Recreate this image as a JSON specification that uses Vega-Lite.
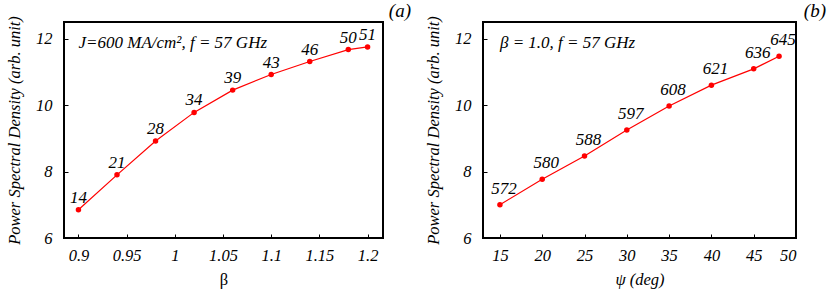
{
  "$schema": "https://vega.github.io/schema/vega-lite/v6.json",
  "padding": {"left": 5, "top": 0, "right": 0, "bottom": 0},
  "background": "white",
  "datasets": {
    "a": [
      {"beta": 0.90, "psd": 6.85, "lab": "14"},
      {"beta": 0.94, "psd": 7.90, "lab": "21"},
      {"beta": 0.98, "psd": 8.92, "lab": "28"},
      {"beta": 1.02, "psd": 9.78, "lab": "34"},
      {"beta": 1.06, "psd": 10.45, "lab": "39"},
      {"beta": 1.10, "psd": 10.92, "lab": "43"},
      {"beta": 1.14, "psd": 11.31, "lab": "46"},
      {"beta": 1.18, "psd": 11.67, "lab": "50"},
      {"beta": 1.20, "psd": 11.75, "lab": "51"}
    ],
    "b": [
      {"psi": 15, "psd": 7.00, "lab": "572"},
      {"psi": 20, "psd": 7.77, "lab": "580"},
      {"psi": 25, "psd": 8.47, "lab": "588"},
      {"psi": 30, "psd": 9.25, "lab": "597"},
      {"psi": 35, "psd": 9.97, "lab": "608"},
      {"psi": 40, "psd": 10.60, "lab": "621"},
      {"psi": 45, "psd": 11.09, "lab": "636"},
      {"psi": 48, "psd": 11.47, "lab": "645"}
    ],
    "noteA": [{"note": "J=600 MA/cm², f = 57 GHz"}],
    "noteB": [{"note": "β = 1.0, f = 57 GHz"}]
  },
  "config": {
    "view": {"stroke": "black", "strokeWidth": 2},
    "font": "Liberation Serif",
    "axis": {
      "domain": false,
      "grid": false,
      "tickSize": -4,
      "tickColor": "black",
      "tickWidth": 1,
      "labelFont": "Liberation Serif",
      "labelFontStyle": "italic",
      "labelFontSize": 16.5,
      "labelColor": "black",
      "titleFont": "Liberation Serif",
      "titleFontStyle": "italic",
      "titleFontWeight": "normal",
      "titleFontSize": 16.5,
      "titleColor": "black"
    },
    "title": {"font": "Liberation Serif", "fontSize": 19, "fontStyle": "italic", "fontWeight": "normal", "color": "black", "anchor": "end", "frame": "group", "offset": -5}
  },
  "spacing": 12,
  "hconcat": [
    {
      "width": 319,
      "height": 216,
      "title": {"text": "(a)", "dx": 28},
      "layer": [
        {
          "data": {"name": "a"},
          "mark": {"type": "line", "color": "#ff0000", "strokeWidth": 1.2},
          "encoding": {
            "x": {"field": "beta", "type": "quantitative",
              "scale": {"domain": [0.885, 1.216], "nice": false, "zero": false},
              "axis": {"title": "β", "titleFontStyle": "normal", "titlePadding": 8, "labelPadding": 13,
                "values": [0.9, 0.925, 0.95, 0.975, 1.0, 1.025, 1.05, 1.075, 1.1, 1.125, 1.15, 1.175, 1.2],
                "labelExpr": "round(datum.value*1000) % 50 == 0 ? format(datum.value, '~g') : ''"}},
            "y": {"field": "psd", "type": "quantitative",
              "scale": {"domain": [6, 12.5], "nice": false, "zero": false},
              "axis": {"title": "Power Spectral Density (arb. unit)", "titlePadding": 13, "labelPadding": 16,
                "values": [6, 7, 8, 9, 10, 11, 12],
                "labelExpr": "datum.value % 2 == 0 ? datum.label : ''"}}
          }
        },
        {
          "data": {"name": "a"},
          "mark": {"type": "point", "filled": true, "color": "#ff0000", "size": 30, "opacity": 1},
          "encoding": {
            "x": {"field": "beta", "type": "quantitative"},
            "y": {"field": "psd", "type": "quantitative"}
          }
        },
        {
          "data": {"name": "a"},
          "mark": {"type": "text", "font": "Liberation Serif", "fontStyle": "italic", "fontSize": 17, "dy": -7, "baseline": "alphabetic", "color": "black"},
          "encoding": {
            "x": {"field": "beta", "type": "quantitative"},
            "y": {"field": "psd", "type": "quantitative"},
            "text": {"field": "lab"}
          }
        },
        {
          "data": {"name": "noteA"},
          "mark": {"type": "text", "font": "Liberation Serif", "fontStyle": "italic", "fontSize": 17, "align": "left", "baseline": "alphabetic", "color": "black"},
          "encoding": {
            "x": {"datum": 0.9},
            "y": {"datum": 11.73},
            "text": {"field": "note"}
          }
        }
      ]
    },
    {
      "width": 313,
      "height": 216,
      "title": {"text": "(b)", "dx": 30},
      "layer": [
        {
          "data": {"name": "b"},
          "mark": {"type": "line", "color": "#ff0000", "strokeWidth": 1.2},
          "encoding": {
            "x": {"field": "psi", "type": "quantitative",
              "scale": {"domain": [13, 50], "nice": false, "zero": false},
              "axis": {"title": "ψ (deg)", "titlePadding": 8, "labelPadding": 13,
                "values": [15, 17.5, 20, 22.5, 25, 27.5, 30, 32.5, 35, 37.5, 40, 42.5, 45, 47.5, 50],
                "labelExpr": "datum.value % 5 == 0 ? datum.label : ''"}},
            "y": {"field": "psd", "type": "quantitative",
              "scale": {"domain": [6, 12.5], "nice": false, "zero": false},
              "axis": {"title": "Power Spectral Density (arb. unit)", "titlePadding": 13, "labelPadding": 16,
                "values": [6, 7, 8, 9, 10, 11, 12],
                "labelExpr": "datum.value % 2 == 0 ? datum.label : ''"}}
          }
        },
        {
          "data": {"name": "b"},
          "mark": {"type": "point", "filled": true, "color": "#ff0000", "size": 30, "opacity": 1},
          "encoding": {
            "x": {"field": "psi", "type": "quantitative"},
            "y": {"field": "psd", "type": "quantitative"}
          }
        },
        {
          "data": {"name": "b"},
          "mark": {"type": "text", "font": "Liberation Serif", "fontStyle": "italic", "fontSize": 17, "dy": -11, "dx": 4, "baseline": "alphabetic", "color": "black"},
          "encoding": {
            "x": {"field": "psi", "type": "quantitative"},
            "y": {"field": "psd", "type": "quantitative"},
            "text": {"field": "lab"}
          }
        },
        {
          "data": {"name": "noteB"},
          "mark": {"type": "text", "font": "Liberation Serif", "fontStyle": "italic", "fontSize": 17, "align": "left", "baseline": "alphabetic", "color": "black"},
          "encoding": {
            "x": {"datum": 15},
            "y": {"datum": 11.73},
            "text": {"field": "note"}
          }
        }
      ]
    }
  ]
}
